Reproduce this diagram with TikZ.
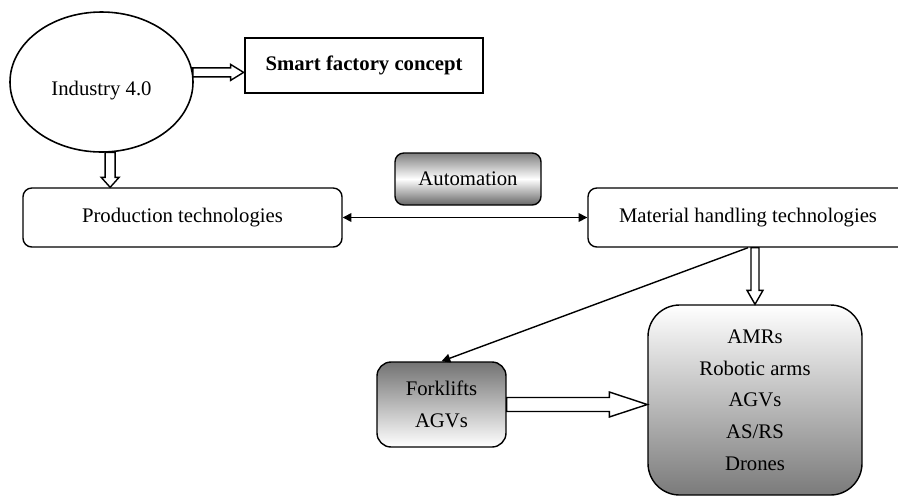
\documentclass[tikz,border=0pt]{standalone}
\usepackage{fontspec}
\setmainfont{Liberation Serif}
\usetikzlibrary{calc}
\usetikzlibrary{shapes}
\usetikzlibrary{arrows.meta}

% hollow block arrow: start, end, half shaft, half head, head length
\newcommand{\fatarrow}[5]{%
\coordinate (fa-s) at (#1);
\coordinate (fa-e) at (#2);
\coordinate (fa-h) at ($(fa-e)!#5!(fa-s)$);
\draw [hollow] ($(fa-s)!#3!90:(fa-e)$) -- ($(fa-h)!#3!90:(fa-e)$) -- ($(fa-h)!#4!90:(fa-e)$) -- (fa-e) -- ($(fa-h)!#4!-90:(fa-e)$) -- ($(fa-h)!#3!-90:(fa-e)$) -- ($(fa-s)!#3!-90:(fa-e)$) -- cycle;}

\begin{document}
\begin{tikzpicture}[>={Triangle[length=5pt,width=5pt]},
txt/.style={font=\fontsize{11.8pt}{18pt}\selectfont, align=center, inner sep=0pt},
idea/.style={txt, draw, ellipse, line width=.9pt},
concept/.style={txt, draw, line width=1.6pt},
techbox/.style={txt, draw, line width=.8pt, rounded corners=5pt},
hollow/.style={draw, fill=white, line width=.8pt, line join=miter},
link/.style={->, line width=.8pt}]
\useasboundingbox (0,0) rectangle (17.96,-9.92);
\clip (0,0) rectangle (17.96,-9.92);

\node [idea, minimum width=3.66cm, minimum height=2.8cm] (ind) at (2.03,-1.64) {\raisebox{-.12cm}[\height][0pt]{Industry 4.0}};
\node [concept, minimum width=4.76cm, minimum height=1.1cm] (smart) at (7.28,-1.31) {\bfseries Smart factory concept};
\node [techbox, minimum width=6.38cm, minimum height=1.18cm] (prod) at (3.65,-4.35) {Production technologies};
\node [techbox, minimum width=2.92cm, minimum height=1.04cm, top color=black!50, bottom color=black!60, middle color=white] (auto) at (9.36,-3.58) {Automation};
\node [techbox, minimum width=6.4cm, minimum height=1.18cm] (mat) at (14.96,-4.35) {Material handling technologies};
\node [techbox, rounded corners=8pt, minimum width=2.58cm, minimum height=1.7cm, top color=black!55, bottom color=white] (fork) at (8.83,-8.09) {Forklifts\\AGVs};
\node [techbox, rounded corners=18pt, minimum width=4.28cm, minimum height=3.8cm, top color=white, bottom color=black!52] (list) at (15.1,-8.0) {AMRs\\Robotic arms\\AGVs\\AS/RS\\Drones};

\draw [link, <->] (prod) -- (mat);
\draw [link] (mat.south) -- (fork.north);
\fatarrow{ind.6}{ind.6 -| smart.west}{.09cm}{.16cm}{.26cm}
\fatarrow{ind.-83}{ind.-83 |- prod.north}{.1cm}{.18cm}{.2cm}
\fatarrow{list.north |- mat.south}{list.north}{.08cm}{.16cm}{.28cm}
\fatarrow{fork.east}{fork.east -| list.west}{.14cm}{.25cm}{.76cm}
\end{tikzpicture}
\end{document}
